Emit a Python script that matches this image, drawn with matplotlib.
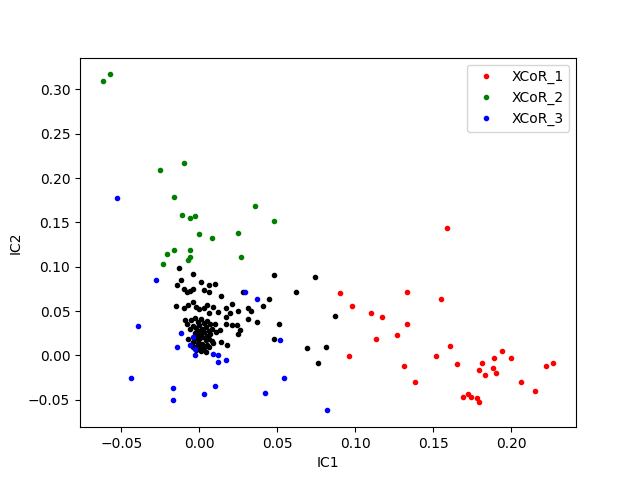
import matplotlib
matplotlib.use('Agg')
import matplotlib.pyplot as plt

# unlabelled background samples
other_x = [-0.013, -0.004, -0.012, 0.001, -0.014, 0.006, 0.010, -0.010, -0.006, -0.004,
           0.003, 0.006, -0.008, 0.014, 0.028, 0.048, 0.074, 0.062, 0.045, 0.041,
           -0.015, -0.010, -0.007, -0.004, -0.002, 0.000, 0.003, 0.005, 0.009, 0.006,
           0.012, 0.017, 0.021, 0.020, 0.025, 0.031, 0.033, 0.031, 0.037, 0.051,
           0.087, 0.017, 0.017, 0.021, 0.024, 0.026, 0.025, 0.048, 0.069, 0.081,
           0.076, 0.018, 0.009, 0.011, 0.014, 0.013, 0.010, -0.009, -0.008, -0.006,
           -0.007, -0.004,
           -0.005, -0.003, -0.001, 0.001, 0.003, 0.005, 0.007, -0.004, -0.002, 0.000,
           0.002, 0.004, 0.006, 0.008, -0.003, -0.001, 0.001, 0.003, 0.005, 0.007,
           -0.002, 0.000, 0.002, 0.004, 0.006, -0.004, -0.001, 0.002, 0.005, 0.008,
           -0.003, 0.000, 0.003, 0.006, -0.002, 0.001, 0.004, 0.000, 0.002, -0.001]
other_y = [0.099, 0.092, 0.085, 0.083, 0.080, 0.080, 0.081, 0.075, 0.073, 0.075,
           0.074, 0.071, 0.071, 0.067, 0.071, 0.091, 0.089, 0.072, 0.064, 0.056,
           0.056, 0.053, 0.057, 0.060, 0.055, 0.052, 0.053, 0.057, 0.055, 0.048,
           0.049, 0.053, 0.058, 0.048, 0.050, 0.053, 0.050, 0.041, 0.038, 0.036,
           0.045, 0.043, 0.036, 0.034, 0.034, 0.029, 0.024, 0.018, 0.008, 0.010,
           -0.008, 0.012, 0.014, 0.026, 0.015, 0.029, 0.035, 0.040, 0.036, 0.030,
           0.018, 0.010,
           0.040, 0.042, 0.038, 0.041, 0.037, 0.039, 0.036, 0.033, 0.031, 0.034,
           0.030, 0.032, 0.028, 0.030, 0.025, 0.027, 0.024, 0.026, 0.022, 0.024,
           0.020, 0.019, 0.021, 0.017, 0.018, 0.015, 0.014, 0.013, 0.012, 0.016,
           0.009, 0.010, 0.008, 0.009, 0.006, 0.005, 0.004, 0.022, 0.028, 0.018]

xcor1_x = [0.159, 0.090, 0.133, 0.155, 0.098, 0.110, 0.117, 0.133, 0.127, 0.113,
           0.161, 0.194, 0.096, 0.152, 0.189, 0.200, 0.131, 0.165, 0.181, 0.222,
           0.227, 0.179, 0.188, 0.183, 0.190, 0.138, 0.206, 0.215, 0.169, 0.172,
           0.174, 0.178, 0.179]
xcor1_y = [0.144, 0.070, 0.072, 0.064, 0.056, 0.048, 0.043, 0.036, 0.023, 0.018,
           0.011, 0.005, -0.001, -0.001, -0.003, -0.003, -0.012, -0.010, -0.009, -0.012,
           -0.009, -0.016, -0.014, -0.022, -0.020, -0.030, -0.030, -0.040, -0.047, -0.043,
           -0.047, -0.048, -0.052]

xcor2_x = [-0.062, -0.057, -0.025, -0.010, -0.016, -0.011, -0.003, -0.006, -0.016, -0.021,
           -0.023, -0.006, -0.007, -0.006, 0.000, 0.008, 0.025, 0.036, 0.048, 0.027]
xcor2_y = [0.310, 0.317, 0.209, 0.217, 0.179, 0.158, 0.157, 0.155, 0.119, 0.114,
           0.103, 0.119, 0.108, 0.111, 0.137, 0.132, 0.138, 0.169, 0.152, 0.111]

xcor3_x = [-0.053, -0.028, -0.039, -0.044, -0.017, -0.017, 0.029, 0.037, -0.012, -0.004,
           -0.014, -0.006, -0.003, -0.003, 0.009, 0.012, 0.012, 0.017, 0.052, 0.054,
           0.010, 0.003, 0.042, 0.082]
xcor3_y = [0.178, 0.085, 0.033, -0.026, -0.037, -0.050, 0.072, 0.064, 0.025, 0.021,
           0.010, 0.012, 0.007, 0.001, 0.002, 0.000, -0.007, -0.005, 0.017, -0.025,
           -0.034, -0.043, -0.042, -0.062]

fig, ax = plt.subplots(figsize=(6.4, 4.8), dpi=100)
ax.plot(other_x, other_y, '.', color='black')
ax.plot(xcor1_x, xcor1_y, '.', color='red', label='XCoR_1')
ax.plot(xcor2_x, xcor2_y, '.', color='green', label='XCoR_2')
ax.plot(xcor3_x, xcor3_y, '.', color='blue', label='XCoR_3')
ax.set_xlabel('IC1')
ax.set_ylabel('IC2')
ax.legend(loc='upper right')

fig.savefig('out.png')
